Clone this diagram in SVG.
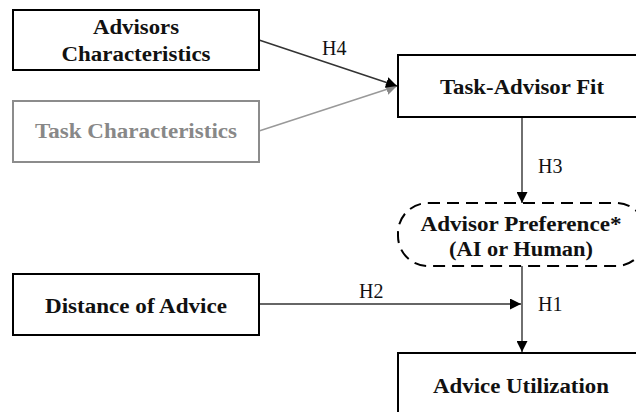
<svg xmlns="http://www.w3.org/2000/svg" width="636" height="412" viewBox="0 0 636 412">
<style>
.box{fill:#fff;stroke:#000;stroke-width:2}
.gbox{fill:#fff;stroke:#8c8c8c;stroke-width:2}
.t{font-family:"Liberation Serif",serif;font-weight:bold;font-size:20px;fill:#111;text-anchor:middle}
.gt{fill:#888}
.lbl{font-family:"Liberation Serif",serif;font-size:20px;fill:#111}
.c{stroke:#333;stroke-width:1.4;fill:none}
.gc{stroke:#999;stroke-width:1.4;fill:none}
</style>
<defs>
<marker id="ah" viewBox="0 0 10 10" refX="10" refY="5" markerWidth="11" markerHeight="11" markerUnits="userSpaceOnUse" orient="auto">
<path d="M0,0 L10,5 L0,10 Z" fill="#000"/>
</marker>
<marker id="gah" viewBox="0 0 10 10" refX="10" refY="5" markerWidth="11" markerHeight="11" markerUnits="userSpaceOnUse" orient="auto">
<path d="M0,0 L10,5 L0,10 Z" fill="#888"/>
</marker>
</defs>
<g id="connectors">
<line class="gc" x1="259" y1="131" x2="397" y2="86" marker-end="url(#gah)"/>
<line class="c" x1="259" y1="40" x2="397" y2="86" marker-end="url(#ah)"/>
<line class="c" x1="522" y1="117" x2="522" y2="203" marker-end="url(#ah)"/>
<line class="c" x1="522" y1="266" x2="522" y2="352" marker-end="url(#ah)"/>
<line class="c" x1="259" y1="304" x2="521" y2="304" marker-end="url(#ah)"/>
<text class="lbl" x="322" y="55">H4</text>
<text class="lbl" x="538" y="173">H3</text>
<text class="lbl" x="359" y="298">H2</text>
<text class="lbl" x="538" y="311">H1</text>
</g>
<g id="advisors-characteristics">
<rect class="box" x="13" y="10" width="246" height="60"/>
<text class="t" x="136" y="34" textLength="86" lengthAdjust="spacingAndGlyphs">Advisors</text>
<text class="t" x="136" y="61" textLength="149" lengthAdjust="spacingAndGlyphs">Characteristics</text>
</g>
<g id="task-characteristics">
<rect class="gbox" x="13" y="101" width="246" height="61"/>
<text class="t gt" x="136" y="138" textLength="202" lengthAdjust="spacingAndGlyphs">Task Characteristics</text>
</g>
<g id="distance-of-advice">
<rect class="box" x="13" y="274" width="246" height="61"/>
<text class="t" x="136" y="313" textLength="182" lengthAdjust="spacingAndGlyphs">Distance of Advice</text>
</g>
<g id="task-advisor-fit">
<rect class="box" x="398" y="55" width="250" height="62"/>
<text class="t" x="522" y="94" textLength="164" lengthAdjust="spacingAndGlyphs">Task-Advisor Fit</text>
</g>
<g id="advisor-preference">
<rect x="398" y="203" width="248" height="63" rx="30" ry="30" fill="#fff" stroke="#000" stroke-width="2" stroke-dasharray="12,7"/>
<text class="t" x="521" y="231" textLength="201" lengthAdjust="spacingAndGlyphs">Advisor Preference*</text>
<text class="t" x="521" y="256" textLength="144" lengthAdjust="spacingAndGlyphs">(AI or Human)</text>
</g>
<g id="advice-utilization">
<rect class="box" x="398" y="353" width="250" height="70"/>
<text class="t" x="521" y="393" textLength="176" lengthAdjust="spacingAndGlyphs">Advice Utilization</text>
</g>
</svg>
